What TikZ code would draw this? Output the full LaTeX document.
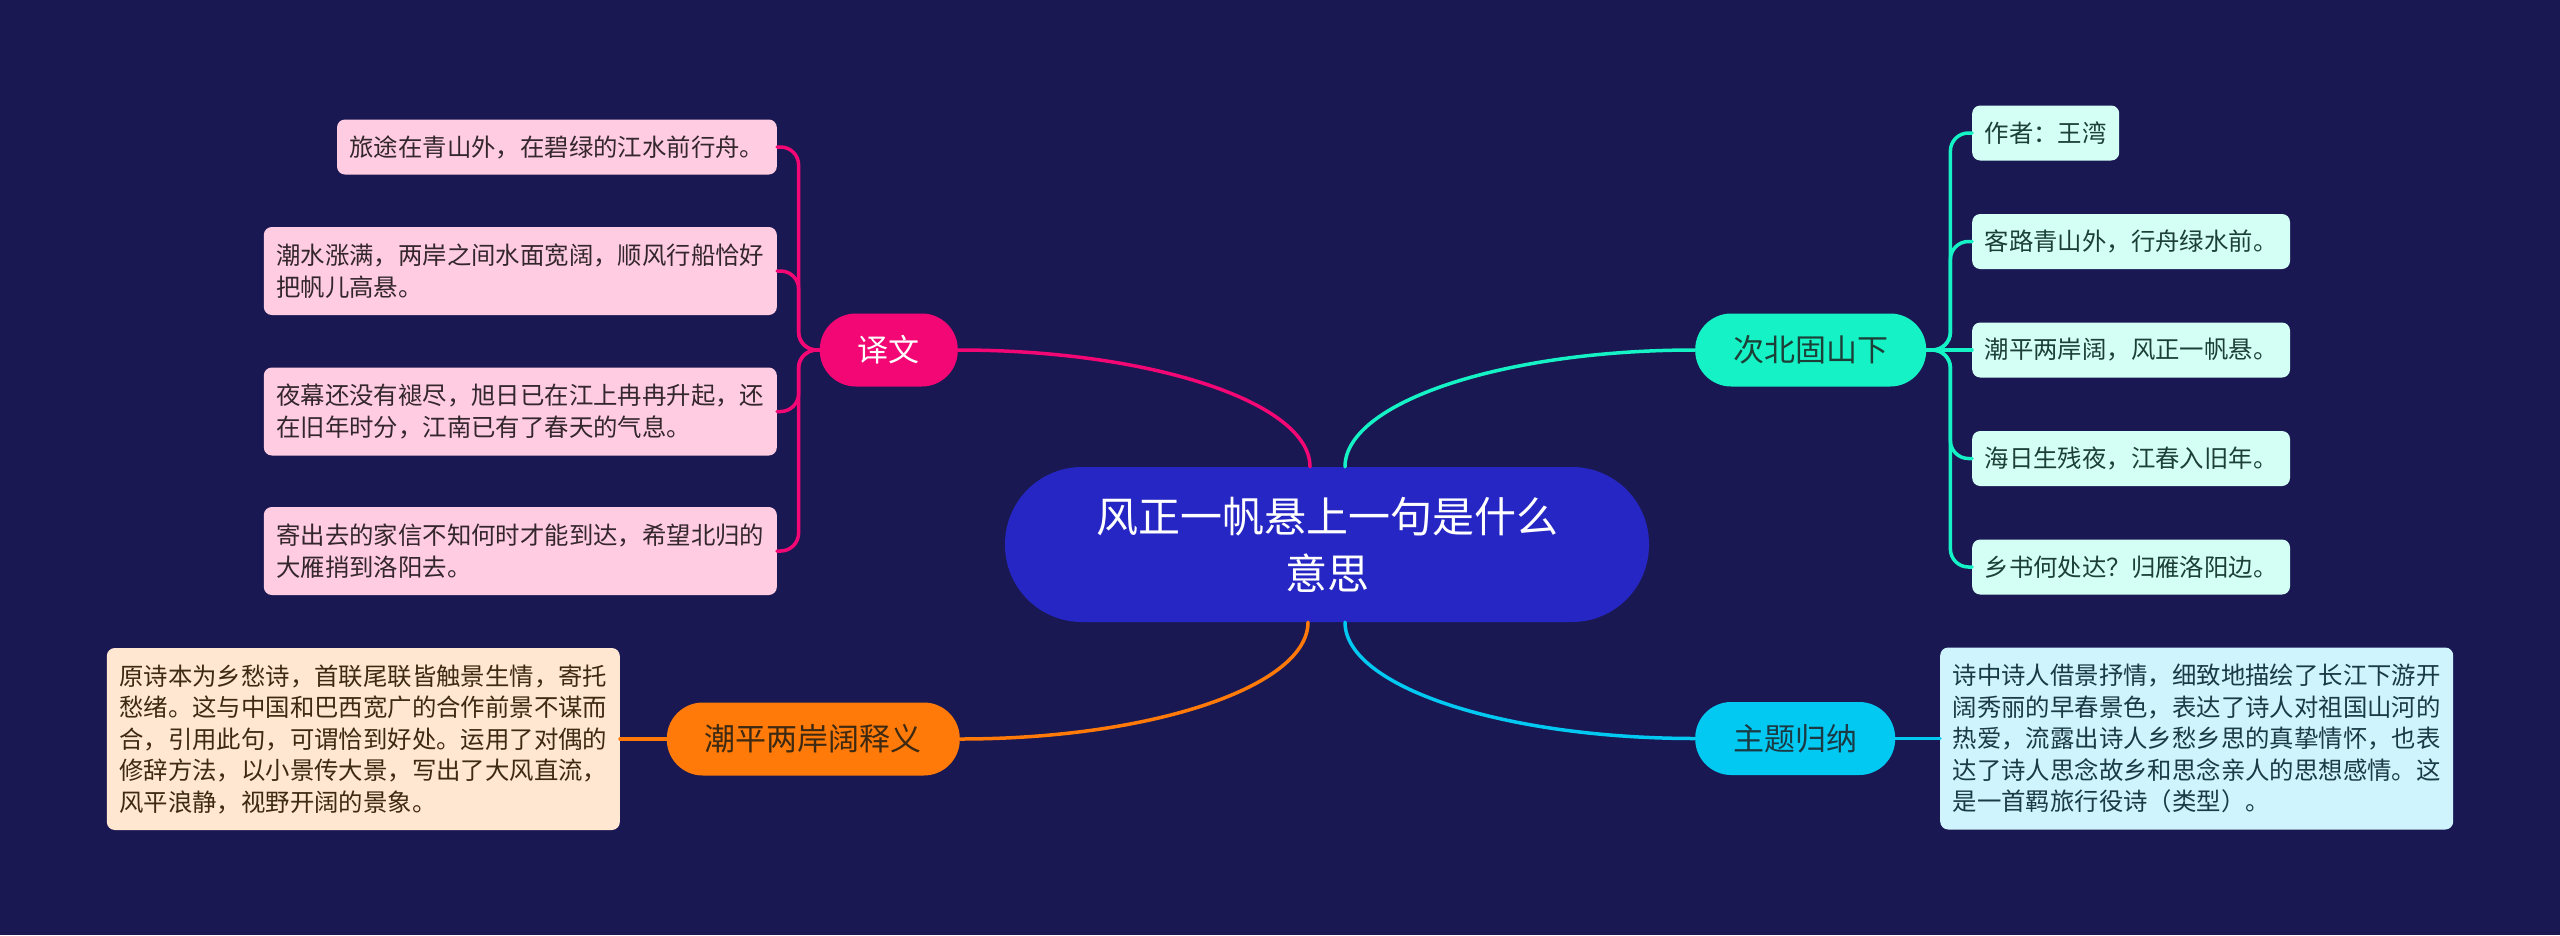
\documentclass[tikz,border=0pt]{standalone}
\usepackage{fontspec}
\setmainfont{Noto Sans CJK SC}
\definecolor{bg}{HTML}{1A1852}
\definecolor{cblue}{HTML}{2626C4}
\definecolor{pinkM}{HTML}{F20775}
\definecolor{tealM}{HTML}{14F2C6}
\definecolor{orgM}{HTML}{FF7A08}
\definecolor{cyanM}{HTML}{02C9F2}
\definecolor{pinkL}{HTML}{FFCCE1}
\definecolor{tealL}{HTML}{D4FFF5}
\definecolor{orgL}{HTML}{FFE7D1}
\definecolor{cyanL}{HTML}{CFF4FD}
\definecolor{pinkT}{HTML}{33262C}
\definecolor{tealT}{HTML}{1C3F37}
\definecolor{orgT}{HTML}{3E2A12}
\definecolor{cyanT}{HTML}{1A3A44}
\begin{document}
\begin{tikzpicture}[x=1pt,y=-1pt,
  centerbox/.style={fill=cblue, text=white, minimum width=644pt, minimum height=155pt,
    rounded corners=77pt, align=center, inner sep=0pt, font=\fontsize{42}{57}\selectfont},
  mainbox/.style={rounded corners=36pt, minimum height=73pt, inner xsep=38pt, inner ysep=0pt,
    font=\fontsize{31}{37}\selectfont},
  leaf/.style={rounded corners=8pt, inner xsep=12.5pt, inner ysep=4pt, align=left,
    font=\fontsize{24.4}{31.5}\selectfont},
  one/.style={minimum height=55pt},
  two/.style={minimum height=88pt},
  five/.style={minimum height=182pt},
  conn/.style={line width=3.5pt, line cap=round},
  elbow/.style={conn, rounded corners=18pt}]
\fill[bg] (0,0) rectangle (2560,935);
\useasboundingbox (0,0) rectangle (2560,935);

% center and main branches
\node[centerbox] (c) at (1327,544.5) {风正一帆悬上一句是什么\\意思};
\node[mainbox, fill=pinkM, text=white, anchor=east] (yw) at (958,350) {译文};
\node[mainbox, fill=tealM, text=tealT, anchor=west] (cb) at (1695,350) {次北固山下};
\node[mainbox, fill=orgM, text=orgT, anchor=east] (cp) at (960,739) {潮平两岸阔释义};
\node[mainbox, fill=cyanM, text=cyanT, anchor=west] (zt) at (1695,738.5) {主题归纳};

% pink leaves
\node[leaf, one, fill=pinkL, text=pinkT, anchor=east] (p1) at (777,147) {旅途在青山外，在碧绿的江水前行舟。};
\node[leaf, two, fill=pinkL, text=pinkT, anchor=east] (p2) at (777,271) {潮水涨满，两岸之间水面宽阔，顺风行船恰好\\把帆儿高悬。};
\node[leaf, two, fill=pinkL, text=pinkT, anchor=east] (p3) at (777,411.5) {夜幕还没有褪尽，旭日已在江上冉冉升起，还\\在旧年时分，江南已有了春天的气息。};
\node[leaf, two, fill=pinkL, text=pinkT, anchor=east] (p4) at (777,551) {寄出去的家信不知何时才能到达，希望北归的\\大雁捎到洛阳去。};

% teal leaves
\node[leaf, one, fill=tealL, text=tealT, anchor=west] (t1) at (1972,133) {作者：王湾};
\node[leaf, one, fill=tealL, text=tealT, anchor=west] (t2) at (1972,241.5) {客路青山外，行舟绿水前。};
\node[leaf, one, fill=tealL, text=tealT, anchor=west] (t3) at (1972,350) {潮平两岸阔，风正一帆悬。};
\node[leaf, one, fill=tealL, text=tealT, anchor=west] (t4) at (1972,458.5) {海日生残夜，江春入旧年。};
\node[leaf, one, fill=tealL, text=tealT, anchor=west] (t5) at (1972,567) {乡书何处达？归雁洛阳边。};

% orange leaf
\node[leaf, five, fill=orgL, text=orgT, anchor=east] (ol) at (620,739) {原诗本为乡愁诗，首联尾联皆触景生情，寄托\\愁绪。这与中国和巴西宽广的合作前景不谋而\\合，引用此句，可谓恰到好处。运用了对偶的\\修辞方法，以小景传大景，写出了大风直流，\\风平浪静，视野开阔的景象。};

% cyan leaf
\node[leaf, five, fill=cyanL, text=cyanT, anchor=west] (cl) at (1940,738.5) {诗中诗人借景抒情，细致地描绘了长江下游开\\阔秀丽的早春景色，表达了诗人对祖国山河的\\热爱，流露出诗人乡愁乡思的真挚情怀，也表\\达了诗人思念故乡和思念亲人的思想感情。这\\是一首羁旅行役诗（类型）。};

% main connectors
\draw[conn, pinkM] (yw.east) .. controls +(194,0) and +(0,-64) .. ([xshift=-17pt]c.north);
\draw[conn, tealM] (cb.west) .. controls +(-193,0) and +(0,-64) .. ([xshift=18pt]c.north);
\draw[conn, orgM] (cp.east) .. controls +(192,0) and +(0,64) .. ([xshift=-19pt]c.south);
\draw[conn, cyanM] (zt.west) .. controls +(-193,0) and +(0,64) .. ([xshift=18pt]c.south);

% pink children
\foreach \n in {p1,p2,p3,p4}
  \draw[elbow, pinkM] (yw.west) -- ++(-21,0) |- (\n.east);
% teal children
\foreach \n in {t1,t2,t4,t5}
  \draw[elbow, tealM] (cb.east) -- ++(24,0) |- (\n.west);
\draw[conn, tealM] (cb.east) -- (t3.west);
% straight children
\draw[conn, orgM] (cp.west) -- (ol.east);
\draw[conn, cyanM] (zt.east) -- (cl.west);
\end{tikzpicture}
\end{document}
